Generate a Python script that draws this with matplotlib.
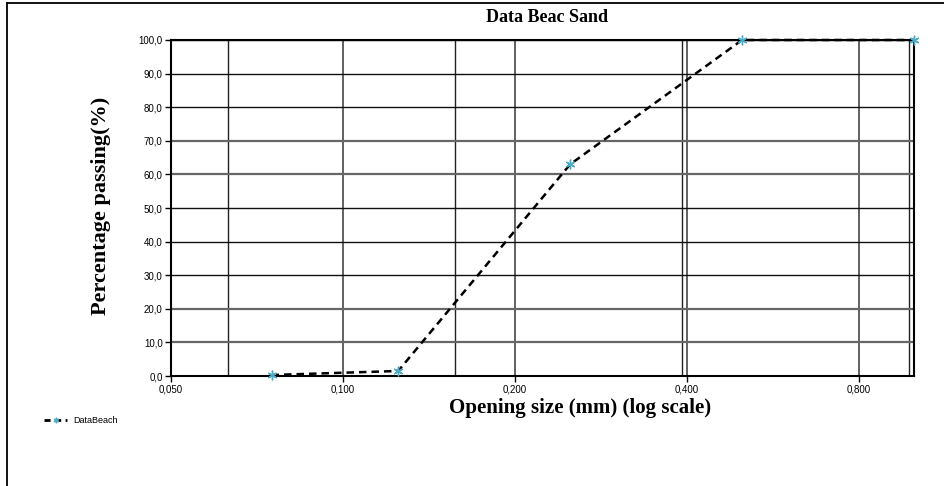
import matplotlib.pyplot as plt
from matplotlib.lines import Line2D
from matplotlib.ticker import FixedLocator, FuncFormatter, NullLocator

# sieve openings (mm) and cumulative percentage passing
opening = [0.075, 0.125, 0.25, 0.5, 1.0]
passing = [0.3, 1.5, 63.0, 100.0, 100.0]

x_ticks = [0.05, 0.1, 0.2, 0.4, 0.8]
y_ticks = [0, 10, 20, 30, 40, 50, 60, 70, 80, 90, 100]
extra_vlines = [0.063, 0.157, 0.393, 0.98]

fig = plt.figure(figsize=(9.44, 4.86), dpi=100)
ax = fig.add_axes([0.1811, 0.2263, 0.7871, 0.6914])

ax.set_xscale('log')
ax.set_xlim(0.05, 1.0)
ax.set_ylim(0, 100)

# grid lines, drawn by hand to mix dark and grey strokes
for xv in x_ticks[1:]:
    ax.axvline(xv, color='#555555', lw=1.3, zorder=1)
for xv in extra_vlines:
    ax.axvline(xv, color='#222222', lw=1.0, zorder=1)
grey_rows = [10, 20, 60, 70]
for yv in y_ticks[1:]:
    if yv in grey_rows:
        ax.axhline(yv, color='#666666', lw=1.6, zorder=1)
    else:
        ax.axhline(yv, color='#111111', lw=1.0, zorder=1)

ax.plot(opening, passing, color='black', ls=(0, (3, 2)), lw=1.8,
        marker=(6, 2, 0), markersize=7, markeredgecolor='#4bacc6',
        markerfacecolor='#4bacc6', markeredgewidth=1.0, zorder=3,
        clip_on=False)

ax.xaxis.set_major_locator(FixedLocator(x_ticks))
ax.xaxis.set_minor_locator(NullLocator())
ax.xaxis.set_major_formatter(FuncFormatter(lambda v, p: f'{v:.3f}'.replace('.', ',')))
ax.yaxis.set_major_locator(FixedLocator(y_ticks))
ax.yaxis.set_major_formatter(FuncFormatter(lambda v, p: f'{v:.1f}'.replace('.', ',')))
ax.tick_params(axis='both', labelsize=7, length=4, width=1, direction='out',
               pad=2, labelfontfamily='Liberation Sans')

for side in ['left', 'bottom', 'right', 'top']:
    ax.spines[side].set_linewidth(1.5)
    ax.spines[side].set_color('black')

serif = 'Liberation Serif'
fig.text(0.5795, 0.963, 'Data Beac Sand', ha='center', va='center',
         fontsize=13, fontweight='bold', family=serif)
fig.text(0.614, 0.160, 'Opening size (mm) (log scale)', ha='center', va='center',
         fontsize=15, fontweight='bold', family=serif)
fig.text(0.107, 0.576, 'Percentage passing(%)', ha='center', va='center',
         rotation=90, fontsize=16, fontweight='bold', family=serif)

handle = Line2D([], [], color='black', ls=(0, (2.2, 1.6)), lw=2.0,
                marker=(6, 2, 0), markersize=4, markeredgecolor='#4bacc6')
fig.legend([handle], ['DataBeach'], loc='center left',
           bbox_to_anchor=(0.038, 0.134), frameon=False, handlelength=2.6,
           handletextpad=0.6, prop={'family': 'Liberation Sans', 'size': 6.5})

# outer frame (left and top edges)
fig.add_artist(Line2D([0.0075, 0.0075], [0.0, 0.994], color='black', lw=1.3))
fig.add_artist(Line2D([0.0075, 1.0], [0.994, 0.994], color='black', lw=1.3))

fig.savefig('out.png', dpi=100)
